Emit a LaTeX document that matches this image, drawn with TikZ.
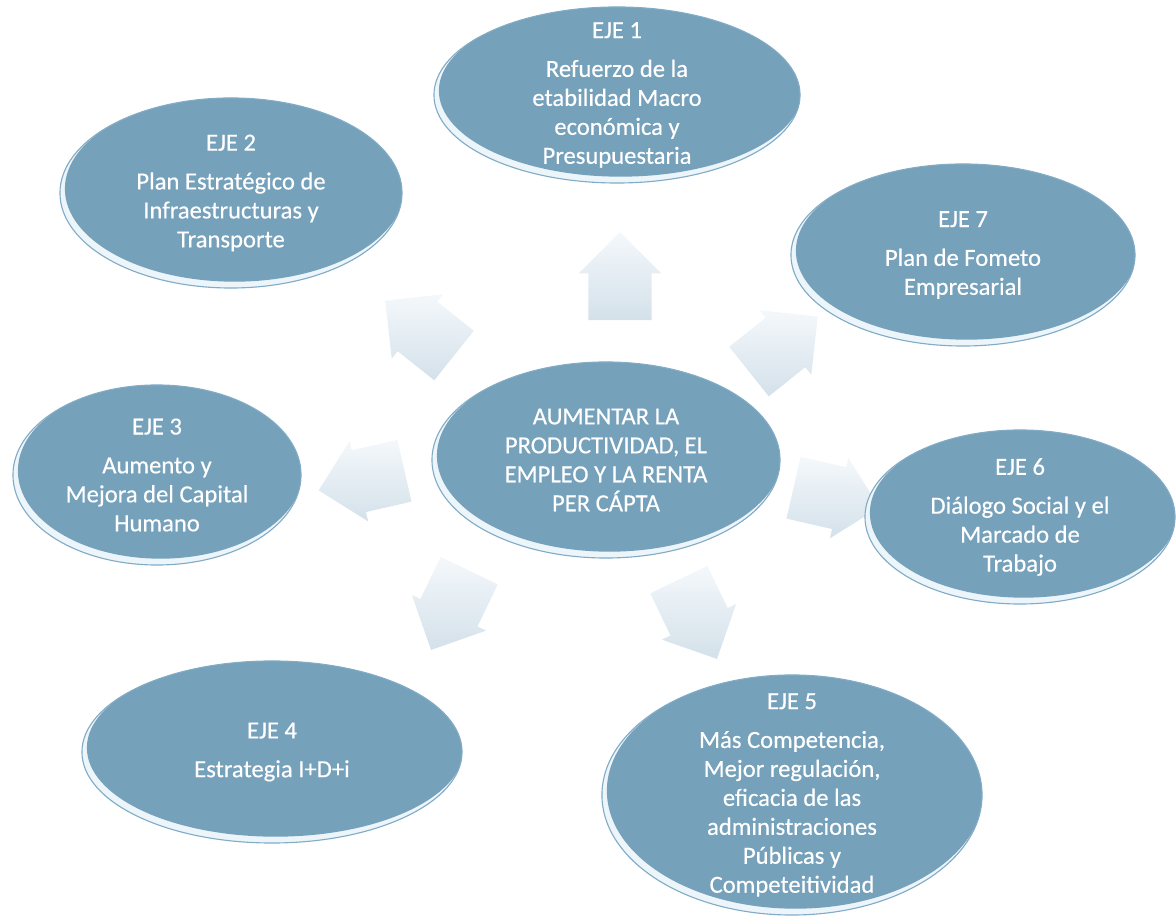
\documentclass[tikz,border=0pt]{standalone}
\usepackage{fontspec}
\setmainfont{Carlito}
\newfontfamily\ejefamily{Carlito}[FakeBold=0.35]
\usepackage{tikz}
\usetikzlibrary{shapes.geometric}
\usetikzlibrary{shapes.arrows}

\definecolor{ejefondo}{RGB}{118,161,187}
\definecolor{ejebrillo}{RGB}{236,245,250}
\definecolor{ejeborde}{RGB}{130,172,198}
\definecolor{flechaA}{RGB}{212,225,234}
\definecolor{flechaB}{RGB}{244,248,251}
\newcommand\ejefont{\ejefamily\fontsize{17.5}{20.6}\selectfont}

\tikzset{
  eje/.style 2 args={ellipse, minimum width=#1, minimum height=#2, inner sep=0pt,
    fill=ejebrillo, draw=ejeborde, line width=0.8pt,
    path picture={\fill[ejefondo] ([xshift=2.5pt,yshift=3pt]path picture bounding box.center)
      ellipse [x radius=#1/2-1pt, y radius=#2/2-1.5pt];}},
  texto/.style={text=white, align=center, font=\ejefont, inner sep=0pt},
  flecha/.style={single arrow, single arrow head extend=0.24cm, single arrow tip angle=90,
    minimum height=2.2cm, inner xsep=0pt, inner ysep=0.785cm,
    shade, top color=flechaB, bottom color=flechaA, rotate=#1},
}

\begin{document}
\begin{tikzpicture}[x=0.025cm,y=0.025cm]
    \useasboundingbox (0,0) rectangle (1176,919);
    \node[flecha=90] (f1) at (620,627) {};
    \node[flecha=141.4] (f2) at (432,581) {};
    \node[flecha=38.6] (f7) at (771,565) {};
    \node[flecha=-167.1] (f3) at (377,442) {};
    \node[flecha=-12.9] (f6) at (821,425) {};
    \node[flecha=-115.7] (f4) at (457,323) {};
    \node[flecha=-64.3] (f5) at (691,314) {};

    \node[eje={8.7cm}{4.9cm}] (centro) at (606,459) {};
    \node[texto] (tc) at (centro) {AUMENTAR LA\\PRODUCTIVIDAD, EL\\EMPLEO Y LA RENTA\\PER CÁPTA};

    \node[eje={9.15cm}{4.4cm}] (eje1) at (617,824) {};
    \node[texto] (t1) at (eje1) {EJE 1\\[7pt]Refuerzo de la\\etabilidad Macro\\económica y\\Presupuestaria};

    \node[eje={8.55cm}{4.75cm}] (eje2) at (231,726) {};
    \node[texto] (t2) at (eje2) {EJE 2\\[7pt]Plan Estratégico de\\Infraestructuras y\\Transporte};

    \node[eje={8.6cm}{4.55cm}] (eje7) at (963,664) {};
    \node[texto] (t7) at (eje7) {EJE 7\\[7pt]Plan de Fometo\\Empresarial};

    \node[eje={7.2cm}{4.5cm}] (eje3) at (157,444) {};
    \node[texto] (t3) at (eje3) {EJE 3\\[7pt]Aumento y\\Mejora del Capital\\Humano};

    \node[eje={7.75cm}{4.35cm}] (eje6) at (1020,402) {};
    \node[texto] (t6) at (eje6) {EJE 6\\[7pt]Diálogo Social y el\\Marcado de\\Trabajo};

    \node[eje={9.5cm}{4.55cm}] (eje4) at (272,167) {};
    \node[texto] (t4) at (eje4) {EJE 4\\[7pt]Estrategia I+D+i};

    \node[eje={9.5cm}{6cm}] (eje5) at (792,124) {};
    \node[texto] (t5) at (eje5) {EJE 5\\[7pt]Más Competencia,\\Mejor regulación,\\eficacia de las\\administraciones\\Públicas y\\Competeitividad};
  \end{tikzpicture}
\end{document}
